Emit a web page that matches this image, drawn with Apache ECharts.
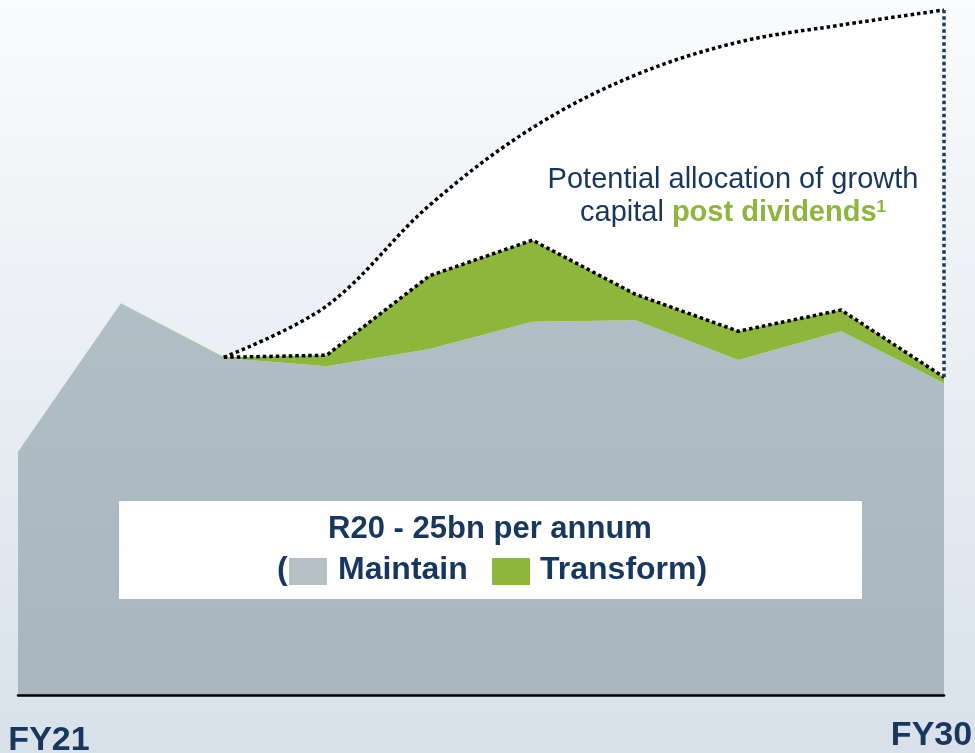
<!DOCTYPE html>
<html>
<head>
<meta charset="utf-8">
<script src="https://cdn.jsdelivr.net/npm/echarts@6/dist/echarts.min.js"></script>
<style>
html,body{margin:0;padding:0;width:975px;height:753px;overflow:hidden;}
#chart{width:975px;height:753px;}
</style>
</head>
<body>
<div id="chart"></div>
<script>
// ---- data ----
const categories = ['FY21','FY22','FY23','FY24','FY25','FY26','FY27','FY28','FY29','FY30'];
const maintain  = [35.5, 57.2, 49.2, 48.0, 50.5, 54.5, 54.7, 48.9, 53.1, 45.5];
const transform = [0.0, 0.0, 0.1, 1.6, 10.7, 11.9, 3.8, 4.2, 3.1, 0.9];
const potential = [null, null, 49.3, 56.8, 71.5, 82.8, 90.5, 95.3, 97.8, 100.0];
const shownLabels = ['FY21', 'FY30'];
const titleLine = 'R20 - 25bn per annum';
const legendNames = ['Maintain', 'Transform'];

// ---- derived ----
const total = maintain.map((v, i) => +(v + transform[i]).toFixed(2));
const totalLine = total.map((v, i) => potential[i] == null ? null : v);
const last = categories.length - 1;

const NAVY = '#17375e';
const GREEN = '#8db63c';
const FONT = 'Liberation Sans, Arial, sans-serif';

const chart = echarts.init(document.getElementById('chart'));
chart.setOption({
  animation: false,
  backgroundColor: {
    type: 'linear', x: 0, y: 0, x2: 0, y2: 1,
    colorStops: [{offset: 0, color: '#fafbfc'}, {offset: 1, color: '#d8e1ea'}]
  },
  grid: {left: 18, right: 31, top: 10, bottom: 58, containLabel: false, outerBoundsMode: 'none'},
  xAxis: {
    type: 'category',
    data: categories,
    boundaryGap: false,
    axisLine: {show: true, lineStyle: {color: '#000', width: 2.5}},
    axisTick: {show: false},
    splitLine: {show: false},
    z: 10,
    axisLabel: {
      interval: (idx, val) => shownLabels.indexOf(val) >= 0,
      hideOverlap: false,
      margin: 18,
      formatter: (val, idx) => idx === 0 ? '{a|' + val + '}' : '{b|' + val + '}',
      rich: {
        a: {fontSize: 34, fontWeight: 'bold', color: NAVY, fontFamily: FONT, padding: [11, 0, 0, 62]},
        b: {fontSize: 34, fontWeight: 'bold', color: NAVY, fontFamily: FONT, padding: [6, 25, 0, 0]}
      }
    }
  },
  yAxis: {type: 'value', min: 0, max: 100, show: false},
  series: [
    {
      name: 'Potential',
      type: 'line',
      data: potential,
      smooth: 0.35,
      symbol: 'none',
      lineStyle: {color: '#000', width: 3.5, type: [3.5, 3]},
      areaStyle: {color: '#ffffff', opacity: 1},
      z: 1,
      markLine: {
        silent: true,
        symbol: ['none', 'none'],
        label: {show: false},
        lineStyle: {color: '#1c3a5c', width: 3.5, type: [3.5, 3]},
        data: [[{xAxis: last, yAxis: total[last]}, {xAxis: last, yAxis: potential[last]}]]
      }
    },
    {
      name: legendNames[0],
      type: 'line',
      stack: 'capex',
      data: maintain,
      symbol: 'none',
      lineStyle: {width: 0},
      areaStyle: {
        opacity: 1,
        color: {type: 'linear', x: 0, y: 0, x2: 0, y2: 1,
          colorStops: [{offset: 0, color: '#b2bec6'}, {offset: 1, color: '#a9b6bf'}]}
      },
      z: 2
    },
    {
      name: legendNames[1],
      type: 'line',
      stack: 'capex',
      data: transform,
      symbol: 'none',
      lineStyle: {width: 0},
      areaStyle: {color: GREEN, opacity: 1},
      z: 2
    },
    {
      name: 'TotalDotted',
      type: 'line',
      data: totalLine,
      symbol: 'none',
      lineStyle: {color: '#000', width: 3.5, type: [3.5, 3]},
      z: 3
    }
  ],
  graphic: [
    {type: 'rect', shape: {x: 119, y: 501, width: 743, height: 98}, style: {fill: '#fff'}, z: 20},
    {type: 'text', x: 490, y: 529, z: 21, style: {text: titleLine, textAlign: 'center', textVerticalAlign: 'middle',
      font: 'bold 31px ' + FONT, fill: NAVY}},
    {type: 'text', x: 277, y: 570, z: 21, style: {text: '(', textAlign: 'left', textVerticalAlign: 'middle',
      font: 'bold 32px ' + FONT, fill: NAVY}},
    {type: 'rect', shape: {x: 289, y: 558, width: 38, height: 27}, style: {fill: '#b5c0c7'}, z: 21},
    {type: 'text', x: 338, y: 570, z: 21, style: {text: legendNames[0], textAlign: 'left', textVerticalAlign: 'middle',
      font: 'bold 32px ' + FONT, fill: NAVY}},
    {type: 'rect', shape: {x: 492, y: 558, width: 38, height: 27}, style: {fill: GREEN}, z: 21},
    {type: 'text', x: 540, y: 570, z: 21, style: {text: legendNames[1] + ')', textAlign: 'left', textVerticalAlign: 'middle',
      font: 'bold 32px ' + FONT, fill: NAVY}},
    {type: 'text', x: 733, y: 180, z: 21, style: {text: 'Potential allocation of growth', textAlign: 'center',
      textVerticalAlign: 'middle', font: '29px ' + FONT, fill: NAVY}},
    {type: 'text', x: 733, y: 213, z: 21, style: {
      text: '{n|capital }{b|post dividends}{s|1}', textAlign: 'center', textVerticalAlign: 'middle',
      rich: {
        n: {fontSize: 29, fontFamily: FONT, fill: NAVY, color: NAVY},
        b: {fontSize: 29, fontFamily: FONT, fontWeight: 'bold', fill: GREEN, color: GREEN},
        s: {fontSize: 17, fontFamily: FONT, fontWeight: 'bold', fill: GREEN, color: GREEN, verticalAlign: 'top', padding: [0, 0, 10, 0]}
      }
    }}
  ]
});
</script>
</body>
</html>
